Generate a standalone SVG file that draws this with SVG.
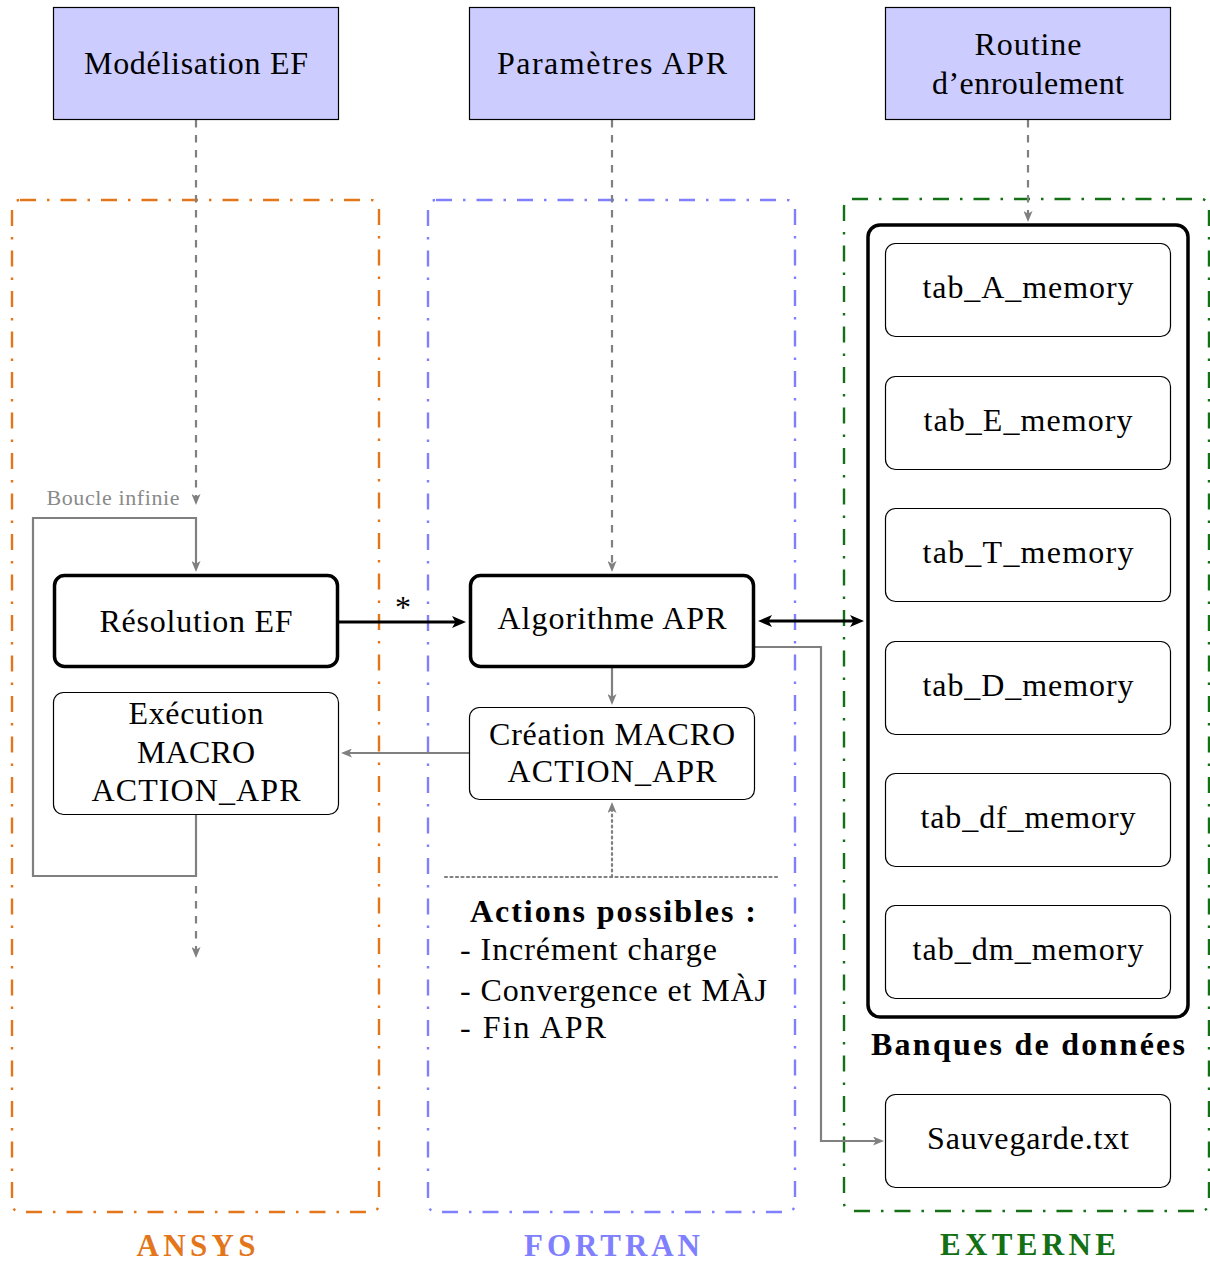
<svg xmlns="http://www.w3.org/2000/svg" width="1210" height="1263" viewBox="0 0 1210 1263">
<style>
text{font-family:"Liberation Serif","Times New Roman",serif;font-size:32px;fill:#000;text-anchor:middle}
.b{font-weight:bold}
.lab{font-weight:bold;font-size:31px}
.l{text-anchor:start}
.top{fill:#ccccff;stroke:#000;stroke-width:1.2}
.thick{fill:#fff;stroke:#000;stroke-width:3.5}
.thin{fill:#fff;stroke:#000;stroke-width:1.2}
.frame{fill:none;stroke-width:2.4;stroke-dasharray:16 11 2.5 11}
.g{fill:none;stroke:#808080;stroke-width:2.2}
.dash{stroke-dasharray:7.5 7.5}
.dot{stroke-dasharray:2 3.5;stroke-linecap:round}
.k{fill:none;stroke:#000;stroke-width:3}
</style>
<defs>
<marker id="ag" markerUnits="userSpaceOnUse" markerWidth="11" markerHeight="9" refX="3" refY="4.5" orient="auto"><path d="M0,0 L11,4.5 L0,9 L2.8,4.5 z" fill="#808080"/></marker>
<marker id="ak" markerUnits="userSpaceOnUse" markerWidth="14" markerHeight="12" refX="4" refY="6" orient="auto-start-reverse"><path d="M0,0 L14,6 L0,12 L3.5,6 z" fill="#000"/></marker>
</defs>

<g id="frame-ansys">
<rect class="frame" x="12" y="200" width="367" height="1012" rx="8" stroke="#e3761b"/>
<text class="lab" x="196" y="1256" style="fill:#e3761b" textLength="119">ANSYS</text>
</g>
<g id="frame-fortran">
<rect class="frame" x="428" y="200" width="367" height="1012" rx="8" stroke="#8080ff"/>
<text class="lab" x="612" y="1256" style="fill:#8080ff" textLength="176">FORTRAN</text>
</g>
<g id="frame-externe">
<rect class="frame" x="844" y="199" width="365" height="1012" rx="8" stroke="#147014"/>
<text class="lab" x="1028" y="1255" style="fill:#147014" textLength="176">EXTERNE</text>
</g>

<g id="connectors">
<path class="g dash" d="M196,120 V497" marker-end="url(#ag)"/>
<path class="g dash" d="M612,120 V564" marker-end="url(#ag)"/>
<path class="g dash" d="M1028,120 V214" marker-end="url(#ag)"/>
<path class="g" d="M196,815 V876 H33 V518 H196 V564" marker-end="url(#ag)"/>
<text x="113" y="505" style="font-size:22px;fill:#8a8a8a" textLength="133">Boucle infinie</text>
<path class="g dash" d="M196,886 V950" marker-end="url(#ag)"/>
<path class="k" d="M339,622 H456" marker-end="url(#ak)"/>
<text x="403" y="618">*</text>
<path class="k" d="M768,621 H854" marker-start="url(#ak)" marker-end="url(#ak)"/>
<path class="g" d="M612,668 V697" marker-end="url(#ag)"/>
<path class="g" d="M469,753 H349" marker-end="url(#ag)"/>
<path class="g" d="M755,647 H821 V1141 H876" marker-end="url(#ag)"/>
<path class="g dot" d="M612,877 V810" marker-end="url(#ag)"/>
</g>

<g id="modelisation">
<rect class="top" x="53.5" y="7.5" width="285" height="112"/>
<text x="196" y="74" textLength="224">Modélisation EF</text>
</g>
<g id="parametres">
<rect class="top" x="469.5" y="7.5" width="285" height="112"/>
<text x="612" y="74" textLength="230">Paramètres APR</text>
</g>
<g id="routine">
<rect class="top" x="885.5" y="7.5" width="285" height="112"/>
<text x="1028" y="55" textLength="107">Routine</text>
<text x="1028" y="94" textLength="192">d’enroulement</text>
</g>

<g id="resolution">
<rect class="thick" x="54.5" y="575.5" width="283" height="91" rx="10"/>
<text x="196" y="632" textLength="193">Résolution EF</text>
</g>
<g id="algorithme">
<rect class="thick" x="470.5" y="575.5" width="283" height="91" rx="10"/>
<text x="612" y="629" textLength="229">Algorithme APR</text>
</g>
<g id="execution">
<rect class="thin" x="53.5" y="692.5" width="285" height="122" rx="10"/>
<text x="196" y="724" textLength="135">Exécution</text>
<text x="196" y="763" textLength="118">MACRO</text>
<text x="196" y="801" textLength="209">ACTION_APR</text>
</g>
<g id="creation">
<rect class="thin" x="469.5" y="707.5" width="285" height="92" rx="10"/>
<text x="612" y="745" textLength="246">Création MACRO</text>
<text x="612" y="782" textLength="209">ACTION_APR</text>
</g>
<g id="actions">
<path class="g dot" d="M445,877 H778"/>
<text class="b" x="613" y="922" textLength="286">Actions possibles :</text>
<text class="l" x="460" y="960" textLength="257">- Incrément charge</text>
<text class="l" x="460" y="1001" textLength="307">- Convergence et MÀJ</text>
<text class="l" x="460" y="1038" textLength="146">- Fin APR</text>
</g>

<g id="banques">
<rect class="thick" x="868" y="225" width="320" height="792" rx="12"/>
<text class="b" x="1028" y="1055" textLength="314">Banques de données</text>
</g>
<g id="tab_A"><rect class="thin" x="885.5" y="243.5" width="285" height="93" rx="10"/><text x="1028" y="298" textLength="211">tab_A_memory</text></g>
<g id="tab_E"><rect class="thin" x="885.5" y="376.5" width="285" height="93" rx="10"/><text x="1028" y="431" textLength="209">tab_E_memory</text></g>
<g id="tab_T"><rect class="thin" x="885.5" y="508.5" width="285" height="93" rx="10"/><text x="1028" y="563" textLength="211">tab_T_memory</text></g>
<g id="tab_D"><rect class="thin" x="885.5" y="641.5" width="285" height="93" rx="10"/><text x="1028" y="696" textLength="211">tab_D_memory</text></g>
<g id="tab_df"><rect class="thin" x="885.5" y="773.5" width="285" height="93" rx="10"/><text x="1028" y="828" textLength="215">tab_df_memory</text></g>
<g id="tab_dm"><rect class="thin" x="885.5" y="905.5" width="285" height="93" rx="10"/><text x="1028" y="960" textLength="231">tab_dm_memory</text></g>
<g id="sauvegarde"><rect class="thin" x="885.5" y="1094.5" width="285" height="93" rx="10"/><text x="1028" y="1149" textLength="202">Sauvegarde.txt</text></g>
</svg>
